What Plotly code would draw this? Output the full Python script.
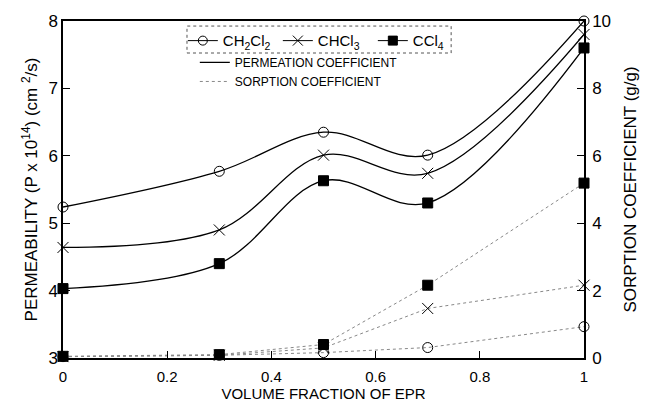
import plotly.graph_objects as go

x_frac = [0, 0.3, 0.5, 0.7, 1.0]

# Permeability (P x 10^14, cm^2/s) - left axis
perm_ch2cl2 = [5.24, 5.77, 6.35, 6.01, 8.0]
perm_chcl3 = [4.64, 4.90, 6.01, 5.74, 7.8]
perm_ccl4 = [4.03, 4.40, 5.63, 5.30, 7.6]

# Sorption coefficient (g/g) - right axis
sorp_ch2cl2 = [0.04, 0.08, 0.16, 0.31, 0.93]
sorp_chcl3 = [0.04, 0.08, 0.30, 1.47, 2.16]
sorp_ccl4 = [0.05, 0.10, 0.40, 2.16, 5.19]

names = ["CH<sub>2</sub>Cl<sub>2</sub>", "CHCl<sub>3</sub>", "CCl<sub>4</sub>"]
symbols = ["circle-open", "x-thin-open", "square"]
perms = [perm_ch2cl2, perm_chcl3, perm_ccl4]
sorps = [sorp_ch2cl2, sorp_chcl3, sorp_ccl4]
sizes = [10, 11, 10]

FONT = "Arial, Liberation Sans, sans-serif"

fig = go.Figure()

for p, s, sym, sz in zip(perms, sorps, symbols, sizes):
    fig.add_trace(go.Scatter(
        x=x_frac, y=p, mode="lines+markers", yaxis="y",
        line=dict(color="black", width=1.3, shape="spline", smoothing=1.0),
        marker=dict(symbol=sym, size=sz, color="black", line=dict(color="black", width=1)),
        cliponaxis=False, showlegend=False))
    fig.add_trace(go.Scatter(
        x=x_frac, y=s, mode="lines+markers", yaxis="y2",
        line=dict(color="#888888", width=1, dash="dot"),
        marker=dict(symbol=sym, size=sz, color="black", line=dict(color="black", width=1)),
        cliponaxis=False, showlegend=False))

# legend entries (solvents)
for nm, sym, sz in zip(names, symbols, sizes):
    fig.add_trace(go.Scatter(
        x=[None], y=[None], mode="lines+markers", name=nm, legend="legend",
        line=dict(color="black", width=1),
        marker=dict(symbol=sym, size=sz - 1, color="black", line=dict(color="black", width=1))))

# legend entries (line styles)
fig.add_trace(go.Scatter(x=[None], y=[None], mode="lines", name="PERMEATION COEFFICIENT",
                         legend="legend2", line=dict(color="black", width=1.3)))
fig.add_trace(go.Scatter(x=[None], y=[None], mode="lines", name="SORPTION COEFFICIENT",
                         legend="legend2", line=dict(color="#888888", width=1, dash="dot")))

fig.update_layout(
    width=649, height=409,
    margin=dict(l=63, r=61, t=20, b=51),
    paper_bgcolor="white", plot_bgcolor="white",
    font=dict(family=FONT, color="black", size=14),
    xaxis=dict(
        range=[0, 1], tickvals=[0, 0.2, 0.4, 0.6, 0.8, 1],
        ticktext=["0", "0.2", "0.4", "0.6", "0.8", "1"],
        ticks="inside", ticklen=7, tickcolor="black",
        showline=True, linecolor="black", linewidth=1.5, mirror=True,
        showgrid=False, zeroline=False, ticklabelstandoff=4,
        tickfont=dict(size=15),
        title=dict(text="VOLUME FRACTION OF EPR", font=dict(size=15), standoff=2)),
    yaxis=dict(
        range=[3, 8], tickvals=[3, 4, 5, 6, 7, 8],
        ticks="inside", ticklen=7, tickcolor="black",
        showline=True, linecolor="black", linewidth=1.5,
        showgrid=False, zeroline=False,
        tickfont=dict(size=17),
        title=dict(text="PERMEABILITY (P x 10<sup>14</sup>) (cm <sup>2</sup>/s)",
                   font=dict(size=17), standoff=6)),
    yaxis2=dict(
        range=[0, 10], tickvals=[0, 2, 4, 6, 8, 10],
        overlaying="y", side="right",
        ticks="inside", ticklen=7, tickcolor="black",
        showline=True, linecolor="black", linewidth=1.5,
        showgrid=False, zeroline=False, ticklabelstandoff=3,
        tickfont=dict(size=17),
        title=dict(text="SORPTION COEFFICIENT (g/g)", font=dict(size=17), standoff=14)),
    legend=dict(
        orientation="h", x=0.230, y=0.99, xanchor="left", yanchor="top",
        bgcolor="rgba(0,0,0,0)", borderwidth=0,
        font=dict(size=15), itemwidth=30, tracegroupgap=0,
        entrywidth=50, entrywidthmode="pixels"),
    legend2=dict(
        orientation="v", x=0.253, y=0.92, xanchor="left", yanchor="top",
        bgcolor="rgba(0,0,0,0)", borderwidth=0,
        font=dict(size=12), itemwidth=30, tracegroupgap=0),
)

# dashed frame around solvent legend
fig.add_shape(type="rect", xref="paper", yref="paper",
              x0=0.238, x1=0.745, y0=0.905, y1=0.985,
              line=dict(color="#555555", width=1, dash="dot"))

fig.write_html("out.html")
